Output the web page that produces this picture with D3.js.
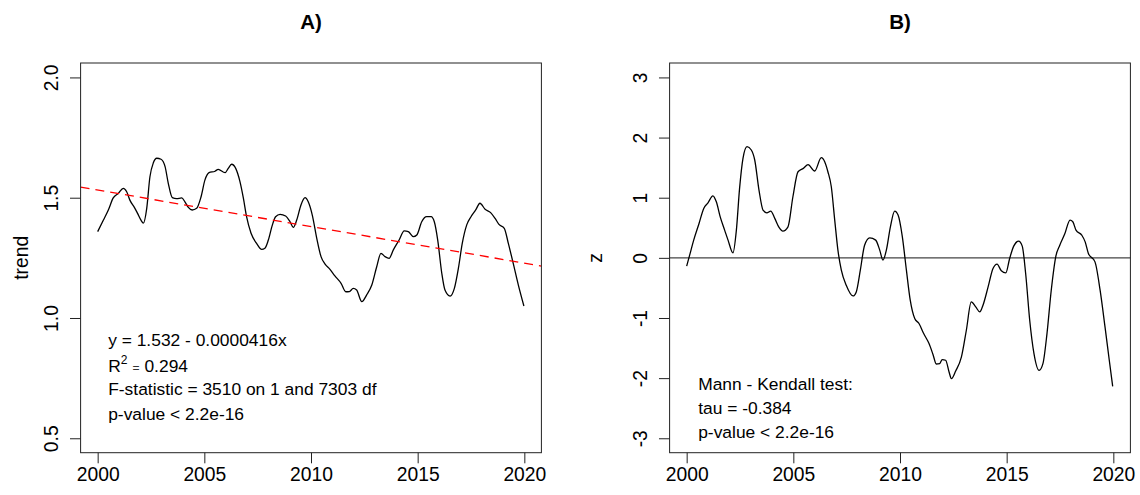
<!DOCTYPE html>
<html>
<head>
<meta charset="utf-8">
<script src="https://cdn.jsdelivr.net/npm/d3@7"></script>
<style>
  html, body { margin: 0; padding: 0; background: #fff; }
  svg { display: block; font-family: "Liberation Sans", Arial, Helvetica, sans-serif; }
</style>
</head>
<body>
<svg id="chart" width="1140" height="495"></svg>
<script>
// Daily series smoothed; sampled here as decimal years
const yearsA = [
  2000.00, 2000.27, 2000.50, 2000.73, 2000.97, 2001.20, 2001.36, 2001.51, 2001.72, 2001.87,
  2002.03, 2002.14, 2002.30, 2002.45, 2002.61, 2002.77, 2002.97, 2003.16, 2003.31, 2003.50,
  2003.70, 2003.94, 2004.09, 2004.25, 2004.43, 2004.64, 2004.84, 2005.03, 2005.22, 2005.50,
  2005.65, 2005.97, 2006.12, 2006.28, 2006.47, 2006.67, 2006.83, 2006.98, 2007.19, 2007.45,
  2007.69, 2007.84, 2008.00, 2008.19, 2008.34, 2008.55, 2008.81, 2009.02, 2009.17, 2009.33,
  2009.53, 2009.72, 2009.87, 2010.06, 2010.27, 2010.47, 2010.66, 2010.89, 2011.12, 2011.41,
  2011.63, 2011.80, 2011.98, 2012.14, 2012.38, 2012.61, 2012.85, 2013.08, 2013.28, 2013.47,
  2013.66, 2013.86, 2014.13, 2014.37, 2014.56, 2014.80, 2014.96, 2015.19, 2015.42, 2015.63,
  2015.78, 2015.94, 2016.13, 2016.28, 2016.52, 2016.72, 2016.91, 2017.09, 2017.30, 2017.50,
  2017.72, 2017.92, 2018.16, 2018.42, 2018.63, 2018.81, 2019.06, 2019.25, 2019.48, 2019.72,
  2019.98
];
const trendValues = [
  1.359, 1.407, 1.449, 1.499, 1.518, 1.539, 1.525, 1.490, 1.460, 1.435,
  1.407, 1.394, 1.456, 1.587, 1.645, 1.664, 1.660, 1.629, 1.560, 1.500,
  1.496, 1.499, 1.483, 1.460, 1.449, 1.456, 1.502, 1.574, 1.604, 1.610,
  1.618, 1.604, 1.622, 1.639, 1.622, 1.567, 1.498, 1.421, 1.352, 1.310,
  1.285, 1.290, 1.324, 1.387, 1.421, 1.431, 1.424, 1.400, 1.377, 1.407,
  1.470, 1.500, 1.483, 1.428, 1.331, 1.255, 1.224, 1.202, 1.175, 1.144,
  1.109, 1.110, 1.123, 1.116, 1.068, 1.096, 1.137, 1.213, 1.269, 1.255,
  1.248, 1.283, 1.324, 1.362, 1.359, 1.338, 1.345, 1.400, 1.421, 1.421,
  1.400, 1.324, 1.186, 1.116, 1.091, 1.123, 1.207, 1.310, 1.387, 1.421,
  1.449, 1.477, 1.452, 1.438, 1.414, 1.389, 1.373, 1.310, 1.227, 1.137,
  1.050
];

const yearsB = [
  2000.00, 2000.14, 2000.33, 2000.58, 2000.80, 2001.00, 2001.23, 2001.39, 2001.58, 2001.78,
  2001.94, 2002.17, 2002.33, 2002.48, 2002.64, 2002.83, 2003.03, 2003.19, 2003.39, 2003.58,
  2003.76, 2003.94, 2004.13, 2004.33, 2004.51, 2004.75, 2004.98, 2005.22, 2005.47, 2005.69,
  2006.00, 2006.31, 2006.47, 2006.62, 2006.78, 2006.94, 2007.09, 2007.25, 2007.48, 2007.80,
  2007.95, 2008.14, 2008.34, 2008.58, 2008.86, 2009.05, 2009.20, 2009.36, 2009.55, 2009.75,
  2009.91, 2010.11, 2010.30, 2010.48, 2010.69, 2010.89, 2011.11, 2011.36, 2011.55, 2011.70,
  2011.86, 2011.98, 2012.14, 2012.30, 2012.41, 2012.61, 2012.88, 2013.11, 2013.34, 2013.55,
  2013.74, 2013.89, 2014.13, 2014.36, 2014.55, 2014.75, 2014.96, 2015.14, 2015.33, 2015.56,
  2015.73, 2015.89, 2016.08, 2016.28, 2016.52, 2016.70, 2016.89, 2017.09, 2017.30, 2017.49,
  2017.72, 2017.97, 2018.10, 2018.25, 2018.52, 2018.68, 2018.83, 2019.14, 2019.38, 2019.61,
  2019.81, 2019.97
];
const zValues = [
  -0.138, 0.045, 0.295, 0.572, 0.822, 0.916, 1.032, 0.932, 0.672, 0.461,
  0.295, 0.083, 0.461, 1.155, 1.655, 1.848, 1.793, 1.627, 1.127, 0.794,
  0.749, 0.778, 0.656, 0.506, 0.445, 0.516, 1.016, 1.432, 1.488, 1.550,
  1.444, 1.665, 1.598, 1.432, 1.182, 0.628, 0.128, -0.205, -0.455, -0.633,
  -0.566, -0.205, 0.211, 0.333, 0.295, 0.128, -0.038, 0.128, 0.516, 0.778,
  0.711, 0.350, -0.205, -0.704, -1.009, -1.092, -1.259, -1.425, -1.610, -1.765,
  -1.758, -1.692, -1.703, -1.898, -2.008, -1.881, -1.648, -1.204, -0.733, -0.816,
  -0.899, -0.788, -0.483, -0.177, -0.105, -0.216, -0.250, -0.010, 0.195, 0.278,
  0.195, -0.260, -1.037, -1.592, -1.870, -1.758, -1.259, -0.538, 0.017, 0.211,
  0.395, 0.628, 0.600, 0.461, 0.378, 0.266, 0.073, -0.067, -0.538, -1.149,
  -1.703, -2.136
];

// Axis ticks
const xTicks = [2000, 2005, 2010, 2015, 2020];
const trendTicks = [0.5, 1.0, 1.5, 2.0];
const zTicks = [-3, -2, -1, 0, 1, 2, 3];

// Linear fit: trend = intercept + slope * (days since 2000-01-01)
const fitIntercept = 1.532;
const fitSlope = -0.0000416;

const textA = [
  "y = 1.532 - 0.0000416x",
  "R2",
  "F-statistic = 3510 on 1 and 7303 df",
  "p-value < 2.2e-16"
];
const r2Value = "0.294";
const textB = ["Mann - Kendall test:", "tau = -0.384", "p-value < 2.2e-16"];

const svg = d3.select("#chart");
const plotTop = 63, plotBottom = 452.7;
const AXIS_FONT = 19.3, TEXT_FONT = 17.4;

function panel(opts) {
  const { left, right, xDom, yDom, yTicks, yFmt, title, ylab, ylabX } = opts;
  const x = d3.scaleLinear().domain(xDom).range([left, right]);
  const y = d3.scaleLinear().domain(yDom).range([plotBottom, plotTop]);
  const g = svg.append("g");

  // clip region for the plot area
  const clipId = "clip" + title.replace(/\W/g, "");
  svg.append("clipPath").attr("id", clipId)
    .append("rect").attr("x", left).attr("y", plotTop)
    .attr("width", right - left).attr("height", plotBottom - plotTop);

  // x axis
  const xa = g.append("g").attr("transform", `translate(0,${plotBottom})`)
    .call(d3.axisBottom(x).tickValues(xTicks).tickFormat(d => String(d)).tickSize(10.6).tickSizeOuter(0));
  xa.select(".domain").remove();
  xa.selectAll(".tick line").attr("stroke", "#222").attr("stroke-width", 1);
  xa.selectAll(".tick text")
    .attr("y", 28.8).attr("dy", null)
    .attr("font-size", AXIS_FONT).attr("fill", "#000")
    .style("font-family", "'Liberation Sans', Arial, sans-serif");

  // y axis, labels rotated to run parallel to the axis
  const ya = g.append("g").attr("transform", `translate(${left},0)`)
    .call(d3.axisLeft(y).tickValues(yTicks).tickFormat(yFmt).tickSize(10.6).tickSizeOuter(0));
  ya.select(".domain").remove();
  ya.selectAll(".tick line").attr("stroke", "#222").attr("stroke-width", 1);
  ya.selectAll(".tick text")
    .attr("x", null).attr("dy", null)
    .attr("transform", "translate(-22.3,0) rotate(-90)")
    .attr("text-anchor", "middle")
    .attr("font-size", AXIS_FONT).attr("fill", "#000")
    .style("font-family", "'Liberation Sans', Arial, sans-serif");

  // title
  svg.append("text")
    .attr("x", (left + right) / 2).attr("y", 28.5)
    .attr("text-anchor", "middle")
    .attr("font-size", 20.5).attr("font-weight", "bold")
    .text(title);

  // y label
  svg.append("text")
    .attr("transform", `translate(${ylabX},${(plotTop + plotBottom) / 2}) rotate(-90)`)
    .attr("text-anchor", "middle")
    .attr("font-size", AXIS_FONT)
    .text(ylab);

  return { x, y, g, clipId, left, right };
}

// ---- Panel A: trend with linear fit ----
const A = panel({
  left: 80.6, right: 541.4, xDom: [1999.2, 2020.8], yDom: [0.44, 2.06],
  yTicks: trendTicks, yFmt: d => d.toFixed(1), title: "A)", ylab: "trend", ylabX: 28.4
});

const lineA = d3.line().x((d, i) => A.x(yearsA[i])).y(d => A.y(d)).curve(d3.curveMonotoneX);
A.g.append("path").datum(trendValues)
  .attr("d", lineA).attr("fill", "none")
  .attr("stroke", "#000").attr("stroke-width", 1.3)
  .attr("clip-path", `url(#${A.clipId})`);

const fitYears = A.x.domain();
A.g.append("line")
  .attr("x1", A.x(fitYears[0])).attr("x2", A.x(fitYears[1]))
  .attr("y1", A.y(fitIntercept + fitSlope * (fitYears[0] - 2000) * 365.25))
  .attr("y2", A.y(fitIntercept + fitSlope * (fitYears[1] - 2000) * 365.25))
  .attr("stroke", "#ff0000").attr("stroke-width", 1.3)
  .attr("stroke-dasharray", "9,6")
  .attr("clip-path", `url(#${A.clipId})`);

const aBase = [346.2, 372.2, 395.2, 419.5];
textA.forEach((t, i) => {
  const tx = A.g.append("text").attr("x", 108.2).attr("y", aBase[i]).attr("font-size", TEXT_FONT);
  if (t === "R2") {
    tx.append("tspan").text("R");
    tx.append("tspan").attr("font-size", 12).attr("dy", -8).text("2");
    tx.append("tspan").attr("font-size", 12).attr("dy", 8).attr("dx", 5).attr("fill", "#333").text("=");
    tx.append("tspan").attr("dx", 5).text(r2Value);
  } else {
    tx.text(t);
  }
});

A.g.append("rect")
  .attr("x", A.left).attr("y", plotTop).attr("width", A.right - A.left).attr("height", plotBottom - plotTop)
  .attr("fill", "none").attr("stroke", "#222").attr("stroke-width", 1);

// ---- Panel B: Mann-Kendall z statistic ----
const B = panel({
  left: 669.6, right: 1130.4, xDom: [1999.2, 2020.8], yDom: [-3.24, 3.24],
  yTicks: zTicks, yFmt: d => String(d), title: "B)", ylab: "z", ylabX: 602
});

B.g.append("line")
  .attr("x1", B.left).attr("x2", B.right)
  .attr("y1", B.y(0)).attr("y2", B.y(0))
  .attr("stroke", "#444").attr("stroke-width", 1.3);

const lineB = d3.line().x((d, i) => B.x(yearsB[i])).y(d => B.y(d)).curve(d3.curveMonotoneX);
B.g.append("path").datum(zValues)
  .attr("d", lineB).attr("fill", "none")
  .attr("stroke", "#000").attr("stroke-width", 1.3)
  .attr("clip-path", `url(#${B.clipId})`);

const bBase = [389.5, 413.7, 438];
textB.forEach((t, i) => {
  B.g.append("text").attr("x", 698.2).attr("y", bBase[i]).attr("font-size", TEXT_FONT).text(t);
});

B.g.append("rect")
  .attr("x", B.left).attr("y", plotTop).attr("width", B.right - B.left).attr("height", plotBottom - plotTop)
  .attr("fill", "none").attr("stroke", "#222").attr("stroke-width", 1);
</script>
</body>
</html>
